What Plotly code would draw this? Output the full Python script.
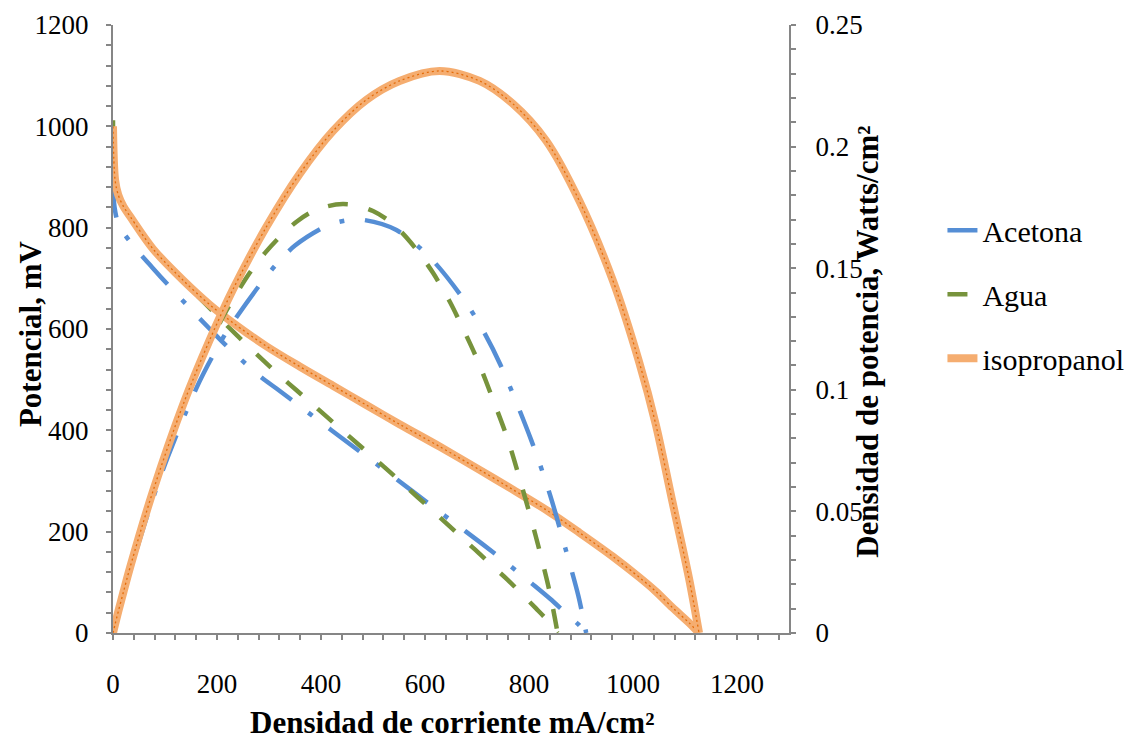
import plotly.graph_objects as go

# ---------------- data ----------------
series_names = ["Acetona", "Agua", "isopropanol"]

current_acetona = [0, 3, 10, 20, 45, 75, 105, 160, 190, 220, 280, 315, 350, 410, 445, 480,
                   545, 610, 675, 710, 745, 805, 840, 870, 895, 910]
voltage_acetona = [895, 840, 808, 790, 757, 722, 688, 628, 596, 565, 509, 482, 455, 408, 381, 354,
                   304, 253, 203, 176, 148, 98, 68, 40, 17, 0]
power_acetona = [0, 0.0025, 0.0081, 0.0158, 0.0341, 0.0542, 0.0722, 0.1005, 0.1132, 0.1243,
                 0.1425, 0.1518, 0.1593, 0.1673, 0.1695, 0.1699, 0.1657, 0.1543, 0.137, 0.125,
                 0.1103, 0.0789, 0.0571, 0.0348, 0.0152, 0]

current_agua = [0, 3, 13, 33, 52, 77, 103, 132, 161, 186, 218, 263, 292, 324, 353, 381, 413,
                442, 471, 500, 530, 557, 586, 615, 647, 673, 701, 730, 759, 785, 813, 839, 855]
voltage_agua = [1012, 910, 855, 820, 792, 760, 730, 698, 667, 641, 608, 563, 535, 505, 479, 454,
                425, 399, 373, 347, 320, 295, 268, 241, 211, 186, 160, 132, 105, 78, 49, 21, 0]
power_agua = [0, 0.0027, 0.0111, 0.0271, 0.0412, 0.0585, 0.0752, 0.0921, 0.1074, 0.1192, 0.1325,
              0.1481, 0.1562, 0.1636, 0.1691, 0.173, 0.1755, 0.1764, 0.1757, 0.1735, 0.1696,
              0.1643, 0.157, 0.1482, 0.1365, 0.1252, 0.1122, 0.0964, 0.0797, 0.0612, 0.0398,
              0.0176, 0]

current_iso = [0, 4, 10, 20, 33, 77, 135, 186, 231, 295, 359, 423, 487, 551, 628, 705, 769, 833,
               897, 961, 1012, 1044, 1076, 1108, 1127]
voltage_iso = [1000, 894, 865, 842, 822, 758, 696, 648, 612, 566, 526, 488, 450, 412, 368, 322,
               283, 243, 198, 151, 110, 82, 50, 20, 0]
power_iso = [0, 0.0036, 0.0087, 0.0168, 0.0271, 0.0584, 0.094, 0.1205, 0.1414, 0.167, 0.1888,
             0.2064, 0.2192, 0.227, 0.2311, 0.227, 0.2176, 0.2024, 0.1776, 0.1451, 0.1113,
             0.0856, 0.0538, 0.0222, 0]

x_title = "Densidad de corriente mA/cm²"
y_title = "Potencial, mV"
y2_title = "Densidad de potencia, Watts/cm²"

# ---------------- style ----------------
FONT = "Liberation Serif, Times New Roman, Times, serif"
AX = "#868686"
BLUE = "#558ED5"
GREEN = "#77933C"
ORANGE_LIGHT = "#F5AD70"
ORANGE_DARK = "#E46C0A"

fig = go.Figure()

def add_pair(name, x, v, p, line, show=True):
    fig.add_trace(go.Scatter(x=x, y=v, name=name, mode="lines",
                             line=dict(shape="spline", smoothing=0.9, **line),
                             legendgroup=name, showlegend=show, yaxis="y", hoverinfo="skip"))
    fig.add_trace(go.Scatter(x=x, y=p, name=name, mode="lines",
                             line=dict(shape="spline", smoothing=0.9, **line),
                             legendgroup=name, showlegend=False, yaxis="y2", hoverinfo="skip"))

add_pair(series_names[0], current_acetona, voltage_acetona, power_acetona,
         dict(color=BLUE, width=4.5, dash="38px,21px,5px,21px"))
add_pair(series_names[1], current_agua, voltage_agua, power_agua,
         dict(color=GREEN, width=4.5, dash="20px,21px"))
add_pair(series_names[2], current_iso, voltage_iso, power_iso,
         dict(color=ORANGE_LIGHT, width=8))
add_pair(series_names[2], current_iso, voltage_iso, power_iso,
         dict(color=ORANGE_DARK, width=1.3, dash="2px,3px"), show=False)

tick_font = dict(family=FONT, size=27, color="black")
title_font = dict(family=FONT, size=31, color="black", weight="bold")

def axis_common(**kw):
    d = dict(showgrid=False, zeroline=False, tickmode="linear", tick0=0,
             tickcolor=AX, tickwidth=1.5, ticklen=5)
    d.update(kw)
    return d

def minor(dt, side):
    return dict(dtick=dt, tick0=0, ticks=side, ticklen=5, tickwidth=1.5, tickcolor=AX,
                showgrid=False)

fig.update_layout(
    width=1131, height=740,
    margin=dict(l=113, r=342, t=25, b=107, autoexpand=False),
    paper_bgcolor="white", plot_bgcolor="white",
    font=dict(family=FONT, color="black"),
    xaxis=axis_common(range=[0, 1300], dtick=200, ticks="outside", showline=True,
                      linecolor=AX, linewidth=2, tickfont=tick_font, ticklabelstandoff=21,
                      minor=minor(40, "outside")),
    xaxis3=axis_common(range=[0, 1300], dtick=200, ticks="inside", showline=False,
                       showticklabels=False, overlaying="x", anchor="y", side="bottom",
                       minor=minor(40, "inside")),
    yaxis=axis_common(range=[0, 1200], dtick=200, ticks="outside", showline=True,
                      linecolor=AX, linewidth=2, tickfont=tick_font, ticklabelstandoff=12,
                      minor=minor(40, "outside")),
    yaxis2=axis_common(range=[0, 0.25], dtick=0.05, ticks="outside", showline=True,
                       linecolor=AX, linewidth=2, tickfont=tick_font, ticklabelstandoff=14,
                       overlaying="y", side="right", anchor="x",
                       minor=minor(0.01, "outside")),
    yaxis3=axis_common(range=[0, 1200], dtick=200, ticks="inside", showline=False,
                       showticklabels=False, overlaying="y", side="left", anchor="x",
                       minor=minor(40, "inside")),
    yaxis4=axis_common(range=[0, 0.25], dtick=0.05, ticks="inside", showline=False,
                       showticklabels=False, overlaying="y", side="right", anchor="x",
                       minor=minor(0.01, "inside")),
    legend=dict(x=1.227, y=0.557, xanchor="left", yanchor="middle",
                font=dict(family=FONT, size=30, color="black"),
                tracegroupgap=22, bgcolor="rgba(0,0,0,0)", traceorder="grouped"),
    annotations=[
        dict(text=y_title, xref="paper", yref="paper", x=-0.123, y=0.493, textangle=-90,
             showarrow=False, xanchor="center", yanchor="middle", font=title_font),
        dict(text=y2_title, xref="paper", yref="paper", x=1.117, y=0.479, textangle=-90,
             showarrow=False, xanchor="center", yanchor="middle", font=title_font),
        dict(text=x_title, xref="paper", yref="paper", x=0.5015, y=-0.148,
             showarrow=False, xanchor="center", yanchor="middle", font=title_font),
    ],
)

fig.write_html("out.html")
